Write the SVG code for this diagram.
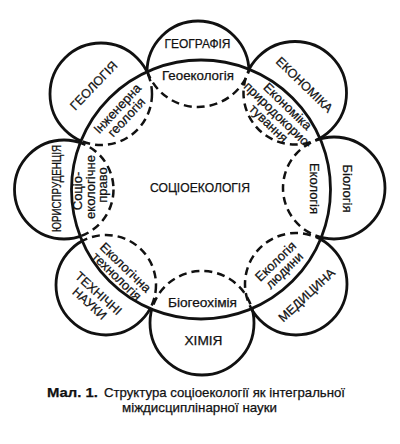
<svg xmlns="http://www.w3.org/2000/svg" width="400" height="444" viewBox="0 0 400 444">
<style>
.o{fill:none;stroke:#111;stroke-width:2.8}
.d{fill:none;stroke:#111;stroke-width:2.5;stroke-dasharray:8 5}
text{font-family:"Liberation Sans",Arial,sans-serif;fill:#111;text-anchor:middle;stroke:#111;stroke-width:0.25}
.c{font-size:12.5px}
.l{font-size:13px}
</style>
<defs>
<mask id="outside" maskUnits="userSpaceOnUse" x="0" y="0" width="400" height="444">
<rect x="0" y="0" width="400" height="444" fill="#fff"/>
<circle cx="201" cy="189.5" r="129.5" fill="#000"/>
</mask>
<clipPath id="inside"><circle cx="201" cy="189.5" r="129.5"/></clipPath>
</defs>
<rect width="400" height="444" fill="#fff"/>

<g id="geography">
<circle class="o" cx="198" cy="72" r="51" mask="url(#outside)"/>
<circle class="d" cx="198" cy="53" r="54" clip-path="url(#inside)"/>
<text class="c" x="197.5" y="48" textLength="66" lengthAdjust="spacingAndGlyphs">ГЕОГРАФІЯ</text>
<text class="l" x="198" y="80" textLength="72" lengthAdjust="spacingAndGlyphs">Геоекологія</text>
</g>

<g id="economics">
<circle class="o" cx="295" cy="93" r="51.5" mask="url(#outside)"/>
<circle class="d" cx="295" cy="93" r="51.5" clip-path="url(#inside)"/>
<g transform="translate(304.5,84.5) rotate(44)"><text class="c" y="4.5">ЕКОНОМІКА</text></g>
<g transform="translate(278,115) rotate(44)">
<text class="l" x="1" y="-8.5">Економіка</text>
<text class="l" y="4.5">природокорис-</text>
<text class="l" x="-1" y="17">тування</text>
</g>
</g>

<g id="biology">
<circle class="o" cx="334" cy="188" r="51" mask="url(#outside)"/>
<circle class="d" cx="334" cy="188" r="51" clip-path="url(#inside)"/>
<g transform="translate(347.5,188.5) rotate(90)"><text class="l" y="4.5">Біологія</text></g>
<g transform="translate(314,188.5) rotate(90)"><text class="l" y="4.5">Екологія</text></g>
</g>

<g id="medicine">
<circle class="o" cx="296" cy="284" r="51" mask="url(#outside)"/>
<circle class="d" cx="296" cy="284" r="51" clip-path="url(#inside)"/>
<g transform="translate(306.5,295) rotate(-43)"><text class="c" y="4.5">МЕДИЦИНА</text></g>
<g transform="translate(280,266) rotate(-44)">
<text class="l" y="-2">Екологія</text>
<text class="l" y="10.5">людини</text>
</g>
</g>

<g id="chemistry">
<circle class="o" cx="202" cy="323" r="52" mask="url(#outside)"/>
<circle class="d" cx="202" cy="323" r="52" clip-path="url(#inside)"/>
<text class="c" x="203.5" y="345" textLength="38" lengthAdjust="spacingAndGlyphs">ХІМІЯ</text>
<text class="l" x="202.5" y="306.5" textLength="69" lengthAdjust="spacingAndGlyphs">Біогеохімія</text>
</g>

<g id="technical">
<circle class="o" cx="106" cy="285" r="50" mask="url(#outside)"/>
<circle class="d" cx="106" cy="285" r="50" clip-path="url(#inside)"/>
<g transform="translate(94,298.5) rotate(42)">
<text class="c" y="-2.5">ТЕХНІЧНІ</text>
<text class="c" y="11">НАУКИ</text>
</g>
<g transform="translate(121,272) rotate(44)">
<text class="l" y="-2">Екологічна</text>
<text class="l" y="10.5">технологія</text>
</g>
</g>

<g id="law">
<circle class="o" cx="64" cy="189.5" r="49.5" mask="url(#outside)"/>
<circle class="d" cx="64" cy="189.5" r="49.5" clip-path="url(#inside)"/>
<g transform="translate(56,188.5) rotate(-90)"><text class="c" y="4.5" textLength="87" lengthAdjust="spacingAndGlyphs">ЮРИСПРУДЕНЦІЯ</text></g>
<g transform="translate(90,187) rotate(-90)">
<text class="l" x="-4" y="-8">Соціо-</text>
<text class="l" y="4.5">екологічне</text>
<text class="l" x="2" y="17">право</text>
</g>
</g>

<g id="geology">
<circle class="o" cx="101" cy="94" r="51" mask="url(#outside)"/>
<circle class="d" cx="101" cy="94" r="51" clip-path="url(#inside)"/>
<g transform="translate(93.5,85.5) rotate(-46)"><text class="c" y="4.5">ГЕОЛОГІЯ</text></g>
<g transform="translate(122,113) rotate(-47)">
<text class="l" y="-2">Інженерна</text>
<text class="l" y="10.5">геологія</text>
</g>
</g>

<g id="socioecology">
<circle class="o" cx="201" cy="189.5" r="129.5"/>
<text style="font-size:13px" x="200" y="191.5" textLength="100" lengthAdjust="spacingAndGlyphs">СОЦІОЕКОЛОГІЯ</text>
</g>

<g id="connectors"/>

<g id="caption" style="font-size:13px">
<text x="47" y="397" style="text-anchor:start;font-weight:bold" textLength="51" lengthAdjust="spacingAndGlyphs">Мал. 1.</text>
<text x="104" y="397" style="text-anchor:start" textLength="241" lengthAdjust="spacingAndGlyphs">Структура соціоекології як інтегральної</text>
<text x="122" y="412" style="text-anchor:start" textLength="155" lengthAdjust="spacingAndGlyphs">міждисциплінарної науки</text>
</g>
</svg>
